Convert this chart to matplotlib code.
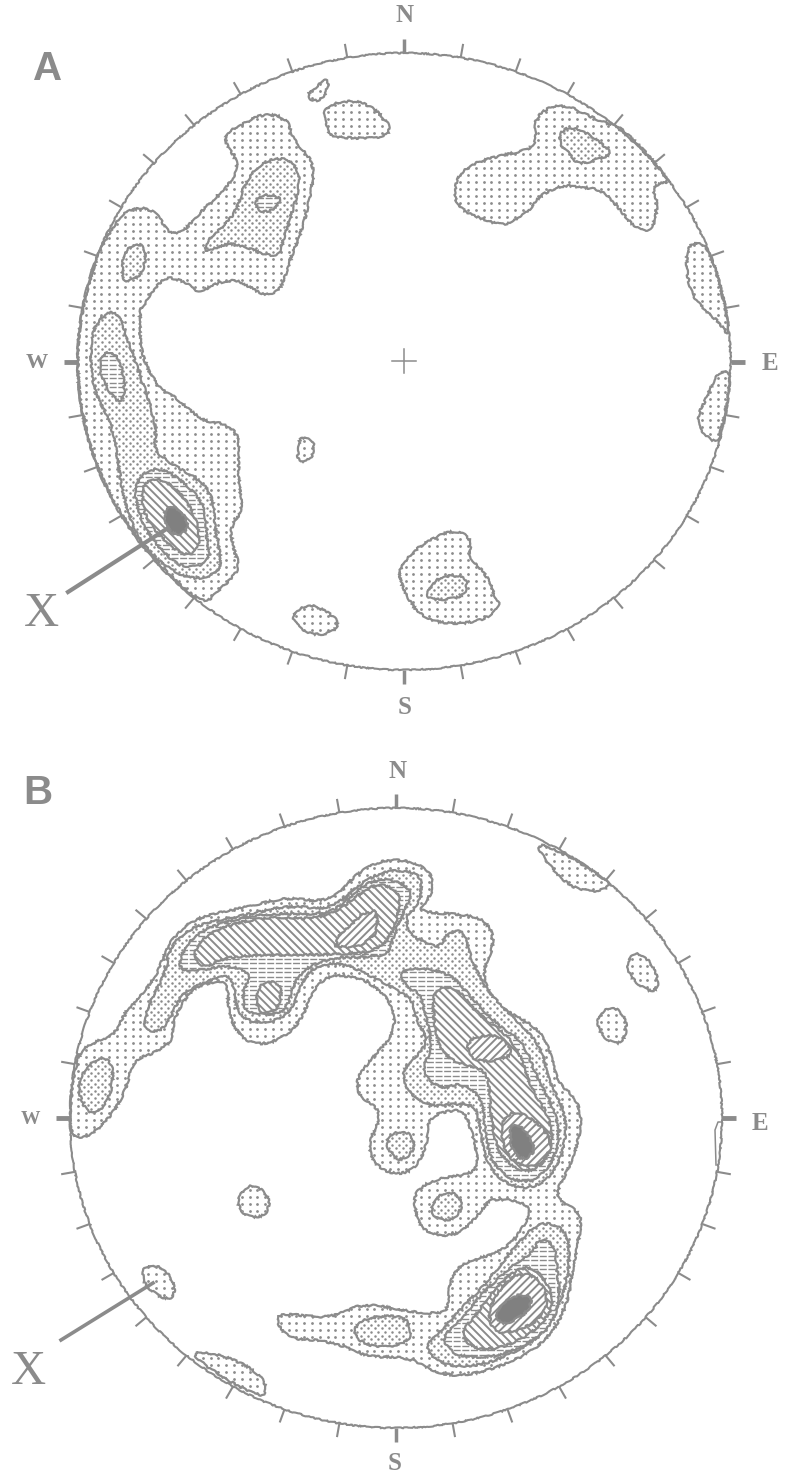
import numpy as np
import matplotlib
matplotlib.use('Agg')
import matplotlib.pyplot as plt
from matplotlib.patches import Polygon, Ellipse
from matplotlib.collections import LineCollection

GREY = '#8b8b8b'

# outlines, in image pixels
a_main = [(223,140),(230,130),(247,122),(262,114),(287,117),(293,140),(310,157),(314,173),(310,197),(303,227),(290,260),(283,283),(277,292),(263,295),(250,287),(237,280),(220,282),(208,288),(197,292),(187,283),(173,278),(165,278),(153,290),(143,307),(140,307),(140,347),(148,370),(160,388),(175,397),(193,413),(207,422),(223,423),(240,435),(238,477),(243,510),(230,527),(233,547),(240,567),(230,580),(217,592),(207,603),(190,594),(170,575),(150,555),(120,513),(100,474),(88,438),(80,400),(77,361),(80,323),(88,285),(100,249),(113,227),(123,213),(142,207),(157,213),(168,233),(182,233),(195,218),(220,193),(230,183),(240,165)]
a_north_2 = [(205,253),(207,240),(223,227),(237,210),(243,187),(260,163),(283,157),(297,167),(300,183),(293,210),(283,240),(280,255),(265,255),(250,248),(230,243),(217,247)]
a_north_3 = [(254,202),(263,194),(281,197),(278,206),(262,214)]
a_nw_2 = [(122,263),(127,247),(143,243),(146,260),(140,277),(123,283)]
a_top_tiny = [(307,94),(317,87),(323,79),(328,80),(328,87),(323,98),(313,102)]
a_top_block = [(322,112),(337,101),(367,102),(393,127),(382,139),(328,137),(328,127)]
a_west_2 = [(117,308),(130,347),(142,380),(157,427),(153,450),(173,465),(200,480),(213,497),(215,530),(223,567),(207,578),(187,578),(160,563),(137,537),(123,497),(117,453),(110,420),(93,390),(90,343),(97,320)]
a_west_3 = [(100,353),(119,353),(126,392),(118,405),(100,376)]
a_core_3 = [(135,487),(143,472),(163,468),(190,487),(205,507),(207,543),(210,560),(193,568),(173,563),(147,533),(137,507)]
a_core_4 = [(142,483),(160,477),(183,495),(197,520),(200,547),(187,558),(160,537),(143,513)]
a_core_6 = [(164,508),(176,506),(189,522),(183,535),(167,532)]
a_ne_main = [(455,183),(465,168),(483,160),(513,153),(533,148),(537,133),(532,125),(545,108),(567,105),(587,115),(605,123),(617,125),(637,143),(657,165),(670,183),(660,183),(652,188),(658,203),(653,230),(637,230),(620,210),(603,190),(580,187),(563,185),(540,195),(530,210),(513,222),(500,225),(480,218),(467,213),(455,202)]
a_ne_2 = [(560,130),(577,127),(597,140),(612,153),(603,158),(577,165),(570,153),(560,147)]
a_east_upper = [(690,243),(705,243),(715,267),(723,297),(728,323),(729,338),(720,323),(707,312),(693,297),(688,280),(686,260)]
a_east_lower = [(717,373),(731,370),(728,397),(723,423),(717,445),(700,430),(697,417),(707,397)]
a_mid_tiny = [(300,437),(313,439),(315,453),(305,463),(297,458),(299,448)]
a_south_1 = [(397,572),(412,552),(430,540),(452,530),(467,535),(472,545),(467,555),(487,575),(495,597),(501,607),(480,622),(443,624),(420,615),(407,597)]
a_south_2 = [(427,593),(437,577),(460,575),(468,583),(463,597),(440,600),(428,598)]
a_south_small = [(291,617),(300,608),(313,604),(340,620),(333,633),(313,635),(300,628)]

b_main = [(70,1133),(82,1139),(100,1128),(115,1110),(127,1087),(133,1060),(157,1052),(173,1040),(173,1020),(190,990),(210,982),(228,982),(228,1013),(240,1037),(258,1045),(280,1040),(300,1023),(313,990),(327,977),(340,975),(367,980),(393,1003),(395,1033),(373,1057),(355,1080),(360,1097),(377,1107),(380,1120),(368,1143),(373,1163),(393,1175),(415,1170),(428,1143),(427,1117),(460,1108),(468,1120),(477,1150),(477,1173),(440,1178),(420,1187),(413,1200),(420,1228),(440,1237),(463,1232),(482,1210),(492,1197),(535,1205),(520,1233),(500,1253),(463,1262),(450,1280),(448,1303),(445,1313),(417,1313),(365,1303),(342,1313),(323,1318),(280,1313),(276,1323),(290,1339),(320,1340),(347,1347),(367,1357),(410,1357),(440,1375),(473,1375),(517,1360),(547,1340),(567,1307),(573,1267),(582,1223),(577,1210),(553,1197),(570,1167),(582,1127),(578,1100),(557,1082),(550,1050),(537,1027),(500,1008),(487,990),(483,970),(495,943),(488,923),(470,915),(433,913),(420,910),(422,908),(435,887),(427,867),(403,860),(383,860),(357,873),(340,893),(320,902),(287,897),(247,907),(197,917),(173,937),(163,957),(158,973),(135,1003),(125,1012),(115,1035),(93,1042),(80,1052),(75,1070),(70,1107)]
b_band_2 = [(143,1030),(147,1007),(165,975),(170,945),(195,925),(245,915),(290,905),(325,910),(345,898),(365,880),(390,870),(415,872),(423,883),(417,908),(407,913),(407,933),(430,945),(440,947),(447,933),(465,930),(470,957),(485,987),(503,1008),(530,1033),(543,1053),(548,1080),(563,1107),(567,1133),(557,1170),(537,1187),(513,1188),(490,1170),(482,1143),(477,1107),(463,1103),(430,1107),(407,1092),(402,1070),(417,1057),(428,1040),(415,1017),(413,1000),(393,988),(373,977),(343,963),(317,965),(303,980),(293,1007),(280,1020),(253,1023),(237,1013),(233,980),(225,975),(193,987),(180,997),(163,1032)]
b_band_3 = [(178,960),(197,930),(260,913),(327,915),(347,900),(370,880),(397,880),(413,893),(403,913),(393,937),(388,957),(337,957),(310,965),(293,983),(287,1010),(270,1015),(245,1013),(242,993),(252,973),(227,965),(203,970),(183,972)]
b_band_4 = [(192,955),(207,932),(263,916),(327,920),(370,885),(389,885),(403,900),(386,950),(337,955),(227,955),(203,970)]
b_lobe_4 = [(255,1002),(261,981),(282,983),(279,1009),(263,1015)]
b_band_5 = [(328,945),(373,905),(380,930),(357,949)]
b_east_3 = [(397,972),(420,967),(453,975),(473,1000),(503,1030),(522,1040),(537,1077),(553,1107),(560,1133),(553,1163),(533,1182),(510,1180),(490,1160),(485,1127),(482,1097),(460,1082),(443,1090),(420,1073),(433,1047),(425,1013),(420,993),(407,987)]
b_east_4 = [(432,988),(457,987),(473,1010),(517,1043),(530,1087),(553,1123),(550,1157),(527,1175),(500,1157),(492,1127),(490,1097),(487,1070),(457,1063),(443,1053),(435,1033)]
b_east_5 = [(466,1040),(497,1033),(515,1053),(493,1062),(470,1059)]
b_peak_5 = [(500,1122),(517,1109),(550,1133),(550,1155),(530,1170),(505,1155)]
b_peak_6 = [(510,1124),(524,1127),(536,1150),(523,1161),(511,1149)]
b_se_2 = [(425,1345),(445,1327),(467,1302),(483,1287),(503,1262),(523,1237),(540,1222),(563,1227),(570,1247),(567,1280),(560,1303),(540,1337),(513,1353),(483,1365),(453,1367),(433,1358)]
b_se_3 = [(442,1337),(467,1313),(485,1290),(517,1262),(532,1253),(540,1238),(555,1245),(557,1270),(560,1297),(553,1323),(530,1343),(497,1357),(460,1357),(447,1347)]
b_se_4 = [(478,1313),(500,1281),(530,1263),(550,1287),(554,1307),(535,1332),(500,1349),(473,1349),(460,1333)]
b_se_5 = [(488,1307),(510,1276),(535,1274),(549,1297),(540,1321),(507,1334),(492,1330)]
b_se_6 = [(496,1310),(513,1295),(532,1296),(529,1311),(508,1324),(498,1322)]
b_pocket_2 = [(385,1143),(393,1132),(410,1132),(415,1147),(407,1158),(395,1160)]
b_island_2 = [(430,1208),(440,1193),(457,1193),(463,1207),(453,1220),(437,1220)]
b_west_2 = [(78,1090),(83,1070),(100,1057),(113,1063),(112,1093),(97,1115),(85,1110)]
b_tail_2 = [(353,1330),(363,1318),(403,1315),(412,1330),(407,1343),(380,1348),(360,1342)]
b_round = [(237,1198),(252,1182),(270,1197),(267,1215),(250,1218),(240,1210)]
b_x_blob = [(143,1267),(160,1265),(173,1280),(175,1297),(163,1299),(148,1288),(143,1280)]
b_sw_slim = [(188,1352),(213,1353),(240,1362),(260,1375),(267,1388),(262,1398),(223,1378)]
b_ne_slim = [(535,842),(563,853),(587,867),(610,883),(607,888),(593,892),(570,887),(547,863)]
b_ne_oval = [(627,963),(633,952),(647,957),(658,977),(657,990),(647,991),(630,977)]
b_e_oval = [(596,1022),(605,1008),(618,1008),(627,1023),(625,1037),(617,1045),(603,1037)]

# level of each contour: 1 sparse dots, 2 dense dots, 3 dashes, 4 and 5 hatch, 6 solid
layers = [
    (1, a_main), (2, a_north_2), (3, a_north_3), (2, a_nw_2), (1, a_top_tiny), (1, a_top_block),
    (2, a_west_2), (3, a_west_3), (3, a_core_3), (4, a_core_4), (6, a_core_6),
    (1, a_ne_main), (2, a_ne_2), (1, a_east_upper), (1, a_east_lower), (1, a_mid_tiny),
    (1, a_south_1), (2, a_south_2), (1, a_south_small),
    (1, b_main), (2, b_band_2), (3, b_band_3), (4, b_band_4), (4, b_lobe_4), (5, b_band_5),
    (3, b_east_3), (4, b_east_4), (5, b_east_5), (5, b_peak_5), (6, b_peak_6),
    (2, b_se_2), (3, b_se_3), (4, b_se_4), (5, b_se_5), (6, b_se_6),
    (2, b_pocket_2), (2, b_island_2), (2, b_west_2), (2, b_tail_2),
    (1, b_round), (1, b_x_blob), (1, b_sw_slim), (1, b_ne_slim), (1, b_ne_oval), (1, b_e_oval),
]

# centre x, centre y, radius x, radius y of the two nets
nets = [(404, 361.5, 326.5, 308.5), (396, 1118, 326, 310)]
tick_step = 10
tick_len = 14


def smooth(pts, n=2):
    p = np.array(pts, dtype=float)
    for _ in range(n):
        q = np.roll(p, -1, axis=0)
        p = np.column_stack([0.75 * p + 0.25 * q, 0.25 * p + 0.75 * q]).reshape(-1, 2)
    return p


def texture(ax, level, p, patch, z):
    x0, y0 = p.min(axis=0) - 8
    x1, y1 = p.max(axis=0) + 8
    if level == 1:
        xx, yy = np.meshgrid(np.arange(0, 792, 7.8), np.arange(0, 1475, 7.0))
        art = ax.scatter(xx.ravel(), yy.ravel(), s=4, c=GREY, lw=0, zorder=z)
    elif level == 2:
        xx, yy = np.meshgrid(np.arange(0, 792, 7.0), np.arange(0, 1475, 3.6))
        xx = xx + (np.arange(xx.shape[0])[:, None] % 2) * 3.5
        art = ax.scatter(xx.ravel(), yy.ravel(), s=3.2, c=GREY, lw=0, zorder=z)
    elif level == 3:
        segs = [[(x0, y), (x1, y)] for y in np.arange(0, 1475, 4.5) if y0 < y < y1]
        art = LineCollection(segs, colors=GREY, linewidths=1.0, linestyles=[(0, (5, 1.2))], zorder=z)
        ax.add_collection(art)
    elif level in (4, 5):
        sign = 1 if level == 4 else -1
        h = y1 - y0
        segs = [[(c, y0), (c + sign * h, y1)] for c in np.arange(-1500, 2400, 8.0)]
        art = LineCollection(segs, colors=GREY, linewidths=1.4, zorder=z)
        ax.add_collection(art)
    else:
        return
    art.set_clip_path(patch)


fig = plt.figure(figsize=(7.92, 14.75), dpi=100)
ax = fig.add_axes([0, 0, 1, 1])
ax.set_xlim(0, 792)
ax.set_ylim(1475, 0)
ax.axis('off')

for i, (level, pts) in enumerate(layers):
    z = 2 + i
    p = smooth(pts, 1 if level >= 5 else 2)
    fill = '#808080' if level == 6 else 'white'
    base = Polygon(p, closed=True, fc=fill, ec='none', zorder=z)
    ax.add_patch(base)
    texture(ax, level, p, base, z + 0.1)
    edge = Polygon(p, closed=True, fc='none', ec=GREY, lw=1.6, zorder=z + 0.2)
    edge.set_sketch_params(scale=0.9, length=7, randomness=20)
    ax.add_patch(edge)

for cx, cy, rx, ry in nets:
    rim = Ellipse((cx, cy), 2 * rx, 2 * ry, fc='none', ec=GREY, lw=1.5, zorder=100)
    rim.set_sketch_params(scale=0.6, length=15, randomness=20)
    ax.add_patch(rim)
    for deg in range(0, 360, tick_step):
        a = np.radians(deg)
        cardinal = deg % 90 == 0
        x0, y0 = cx + rx * np.sin(a), cy - ry * np.cos(a)
        x1, y1 = x0 + tick_len * np.sin(a), y0 - tick_len * np.cos(a)
        lw = 1.5
        if deg in (90, 270):
            lw = 3.5
        elif cardinal:
            lw = 2.5
        ax.plot([x0, x1], [y0, y1], color=GREY, lw=lw, zorder=100, solid_capstyle='butt')

# cross at the centre of net A
ax.plot([392, 416], [361, 361], color=GREY, lw=1.1, zorder=100)
ax.plot([404, 404], [349, 373], color=GREY, lw=1.1, zorder=100)

# pointers to the X labels
ax.plot([68, 168], [592, 528], color=GREY, lw=3, zorder=101)
ax.plot([61, 153], [1340, 1283], color=GREY, lw=2.6, zorder=101)

# doubled rim beside the E tick of net B
ax.plot([716, 715, 718, 720], [1165, 1130, 1122, 1122], color=GREY, lw=1.1, zorder=100)

for x, y, s, fs in [(405, 15, 'N', 18), (405, 708, 'S', 18), (770, 363, 'E', 18), (37, 363, 'W', 16),
                    (398, 772, 'N', 18), (395, 1463, 'S', 18), (760, 1123, 'E', 18), (30, 1119, 'W', 14)]:
    ax.text(x, y, s, color=GREY, fontsize=fs, family='Liberation Serif', weight='bold', ha='center', va='center')

ax.text(48, 69, 'A', color=GREY, fontsize=29, family='Liberation Sans', weight='bold', ha='center', va='center')
ax.text(38, 793, 'B', color=GREY, fontsize=29, family='Liberation Sans', weight='bold', ha='center', va='center')
ax.text(41, 614, 'X', color=GREY, fontsize=35, family='Liberation Serif', ha='center', va='center')
ax.text(28, 1372, 'X', color=GREY, fontsize=35, family='Liberation Serif', ha='center', va='center')

fig.savefig('out.png', dpi=100, facecolor='white')
